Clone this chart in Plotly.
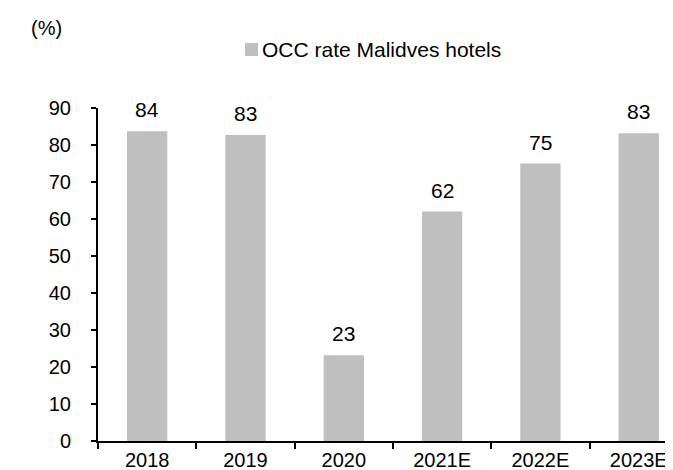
import plotly.graph_objects as go

categories = ["2018", "2019", "2020", "2021E", "2022E", "2023E"]
occ_rate = [83.7, 82.7, 23.2, 62.0, 75.0, 83.2]
labels = ["84", "83", "23", "62", "75", "83"]
y_ticks = [0, 10, 20, 30, 40, 50, 60, 70, 80, 90]
series_name = "OCC rate Malidves hotels"

FONT = "Liberation Sans, Arial, sans-serif"
GREY = "#BFBFBF"
FS = 20
FS_BIG = 21

# plot area in pixels: x 90..673, y 100..433
PL, PW, PT, PH = 90, 583, 100, 333
def px(x):
    return (x - PL) / PW
def py(y):
    return (PT + PH - y) / PH

fig = go.Figure()
fig.add_trace(go.Bar(
    x=list(range(len(categories))), y=occ_rate, name=series_name,
    marker=dict(color=GREY, line=dict(width=0)),
    width=0.41, showlegend=False,
))

for i, (v, t) in enumerate(zip(occ_rate, labels)):
    fig.add_annotation(x=i, y=v, text=t, showarrow=False, yanchor="bottom",
                       yshift=8, font=dict(family=FONT, size=FS_BIG, color="#000"))

fig.add_annotation(xref="paper", yref="paper", x=px(21), y=py(20), xanchor="left",
                   yanchor="middle", text="(%)", showarrow=False,
                   font=dict(family=FONT, size=FS, color="#000"))

# legend (manual)
fig.add_shape(type="rect", xref="paper", yref="paper",
              x0=px(237), x1=px(250), y0=py(48), y1=py(35),
              fillcolor=GREY, line=dict(width=0))
fig.add_annotation(xref="paper", yref="paper", x=px(252), y=py(41.5), xanchor="left",
                   yanchor="middle", text=series_name, showarrow=False,
                   font=dict(family=FONT, size=FS_BIG, color="#000"))

fig.update_layout(
    width=673, height=470,
    margin=dict(l=PL, r=0, t=PT, b=470 - PT - PH),
    paper_bgcolor="white", plot_bgcolor="white",
    showlegend=False,
    font=dict(family=FONT, size=FS, color="#000"),
)
fig.update_xaxes(
    range=[-0.5, 5.43],
    tickvals=list(range(len(categories))), ticktext=categories,
    showline=True, linecolor="#000", linewidth=2,
    ticks="", showgrid=False, zeroline=False, ticklabelstandoff=0,
    minor=dict(tickvals=[i + 0.5 for i in range(-1, len(categories))],
               ticks="outside", ticklen=6, tickwidth=2, tickcolor="#000", showgrid=False),
)
fig.update_yaxes(
    range=[0, 90], tickvals=y_ticks,
    showline=True, linecolor="#000", linewidth=2,
    ticks="outside", ticklen=5, tickwidth=2, tickcolor="#000",
    showgrid=False, zeroline=False, ticklabelstandoff=16,
)

fig.write_html("out.html")
